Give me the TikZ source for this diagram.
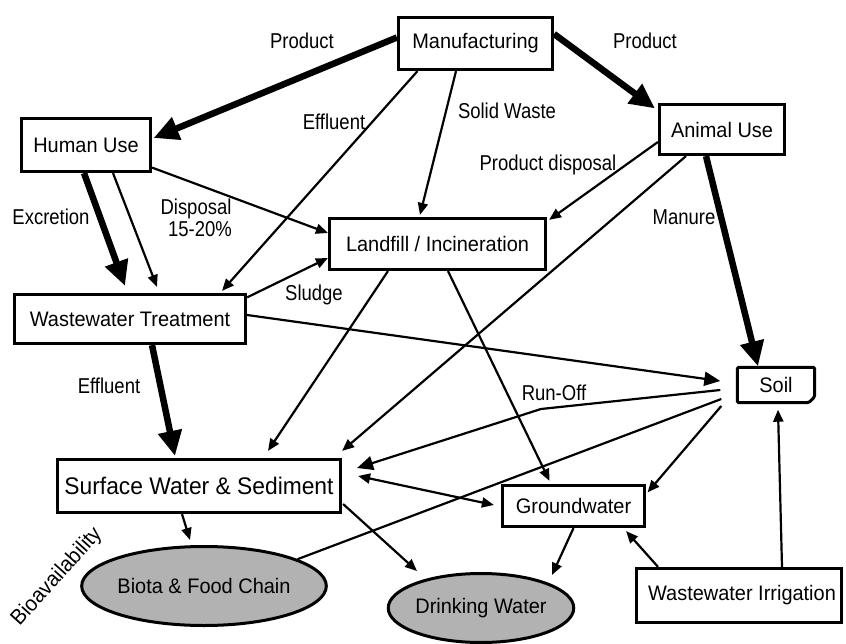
\documentclass[tikz,border=0pt]{standalone}
\usepackage{fontspec}
\setmainfont{Liberation Sans}
\newfontfamily\nodefont[FakeStretch=0.95]{Liberation Sans}
\newfontfamily\labfont[FakeStretch=0.86]{Liberation Sans}
\usetikzlibrary{arrows.meta,calc,shapes.geometric}
\definecolor{ellgray}{RGB}{178,178,178}
\begin{document}
\begin{tikzpicture}[x=1pt,y=-1pt,
  box/.style={draw, line width=3.2pt, inner sep=0pt, font={\nodefont\fontsize{21}{25}\selectfont}},
  ell/.style={ellipse, draw, line width=3pt, fill=ellgray, inner sep=0pt, font={\nodefont\fontsize{21}{25}\selectfont}},
  lab/.style={inner sep=0pt, font={\labfont\fontsize{21.5}{25}\selectfont}},
  thin/.style={line width=2.2pt, -{Triangle[length=12pt,width=10pt]}},
  med/.style={line width=2.2pt, -{Triangle[length=16pt,width=14pt]}},
  thick/.style={line width=6.5pt, -{Triangle[length=25pt,width=23pt]}},
  plain/.style={line width=2.2pt}]
\useasboundingbox (0,0) rectangle (846,644);
% nodes
\node[box, minimum width=154pt, minimum height=52pt] (man) at (475.5,43.5) {Manufacturing};
\node[box, minimum width=129pt, minimum height=53pt] (hum) at (86,145) {Human Use};
\node[box, minimum width=125pt, minimum height=50pt] (ani) at (722,129.5) {Animal Use};
\node[box, minimum width=216pt, minimum height=51pt] (lan) at (437.5,244) {Landfill / Incineration\hspace{12pt}};
\node[box, minimum width=231pt, minimum height=49pt] (wwt) at (130,319) {Wastewater Treatment\hspace{6pt}};
\node[inner sep=0pt, minimum width=77pt, minimum height=35pt, font={\nodefont\fontsize{21}{25}\selectfont}] (soil) at (776,385) {Soil};
\draw[line width=3pt, rounded corners=1.5pt] (soil.north west) -- (soil.north east) -- ($(soil.south east)+(0,-6)$) -- ($(soil.south east)+(-6,0)$) -- (soil.south west) -- cycle;
\node[box, font={\nodefont\fontsize{24}{28}\selectfont}, minimum width=283pt, minimum height=53pt] (sur) at (199,486) {Surface Water \& Sediment};
\node[box, minimum width=142pt, minimum height=41pt] (gro) at (573.5,506) {Groundwater};
\node[box, minimum width=205pt, minimum height=54pt] (wi) at (739,595.5) {\hspace{6pt}Wastewater Irrigation};
\node[ell, minimum width=241pt, minimum height=79pt] (bio) at (204,586) {Biota \& Food Chain};
\node[ell, minimum width=173pt, minimum height=69pt] (dri) at (481,608) {Drinking Water};
% labels
\node[lab, anchor=base] (l1) at (302,49) {Product};
\node[lab, anchor=base] (l2) at (645,49) {Product};
\node[lab, anchor=base] (l3) at (334,130) {Effluent};
\node[lab, anchor=base] (l4) at (507,119) {Solid Waste};
\node[lab, anchor=base] (l5) at (548,171) {Product disposal};
\node[lab, anchor=base] (l6) at (51,225) {Excretion};
\node[lab, anchor=base] (l7) at (196,215) {Disposal};
\node[lab, anchor=base] (l8) at (200,237) {15-20\%};
\node[lab, anchor=base] (l9) at (314,301) {Sludge};
\node[lab, anchor=base] (l10) at (684,225) {Manure};
\node[lab, anchor=base] (l11) at (109,393) {Effluent};
\node[lab, anchor=base] (l12) at (554,400) {Run-Off};
\node[lab, font={\nodefont\fontsize{21.5}{25}\selectfont}, rotate=48] (l13) at (57,577) {Bioavailability};
% connectors
\draw[thick] ($(man.west)+(0,-6)$) -- ($(hum.east)+(1.5,-7)$);
\draw[thick] ($(man.east)+(0,-9.5)$) -- ($(ani.north west)+(-3,5.5)$);
\draw[thin] ($(man.south)+(-58,0)$) -- ($(wwt.north)+(92,-2)$);
\draw[thin] ($(man.south)+(-19.5,0)$) -- ($(lan.north)+(-17.5,-2)$);
\draw[thick] ($(hum.south)+(-2,0)$) -- ($(wwt.north)+(-5,-7)$);
\draw[thin] ($(hum.south)+(27,0)$) -- ($(wwt.north)+(27,-6)$);
\draw[thin] ($(hum.south east)+(0,-5.5)$) -- ($(lan.west)+(0,-11)$);
\draw[thin] ($(wwt.north east)+(0,4.5)$) -- ($(lan.west)+(0,14)$);
\draw[med] ($(wwt.east)+(0,-4)$) -- ($(soil.west)+(-17,-4)$);
\draw[thick] ($(wwt.south)+(22,0)$) -- ($(sur.north)+(-24,-2)$);
\draw[thin] ($(ani.west)+(0,12.5)$) -- ($(lan.north east)+(2,3)$);
\draw[thin] ($(ani.south)+(-36,0)$) -- ($(sur.north east)+(0,-7)$);
\draw[thick] ($(ani.south)+(-16,0)$) -- ($(soil.north)+(-18,-1)$);
\draw[thin] ($(lan.south)+(-49.5,0)$) -- ($(sur.north)+(69,-7)$);
\draw[thin] ($(lan.south)+(10.5,0)$) -- ($(gro.north)+(-24,-3)$);
\draw[med] ($(soil.west)+(-17,5)$) -- (541,409) -- ($(sur.east)+(15,-18)$);
\draw[plain] ($(soil.west)+(-16,14)$) -- (bio.16);
\draw[thin] ($(soil.west)+(-16,21)$) -- ($(gro.north east)+(1.5,8.5)$);
\draw[line width=2.2pt, {Triangle[length=12pt,width=10pt]}-{Triangle[length=12pt,width=10pt]}] ($(sur.east)+(16,-10)$) -- ($(gro.west)+(-7,-1)$);
\draw[thin] ($(sur.east)+(1,18)$) -- ($(dri.north)+(-64,-1)$);
\draw[thin] ($(sur.south)+(-17,0)$) -- ($(bio.north)+(-14,-5)$);
\draw[thin] (gro.south) -- ($(dri.north)+(71,3)$);
\draw[thin] ($(wi.north)+(-81,0)$) -- ($(gro.south east)+(-20,3)$);
\draw[thin] ($(wi.north)+(43,0)$) -- ($(soil.south)+(2,7)$);
\end{tikzpicture}
\end{document}
